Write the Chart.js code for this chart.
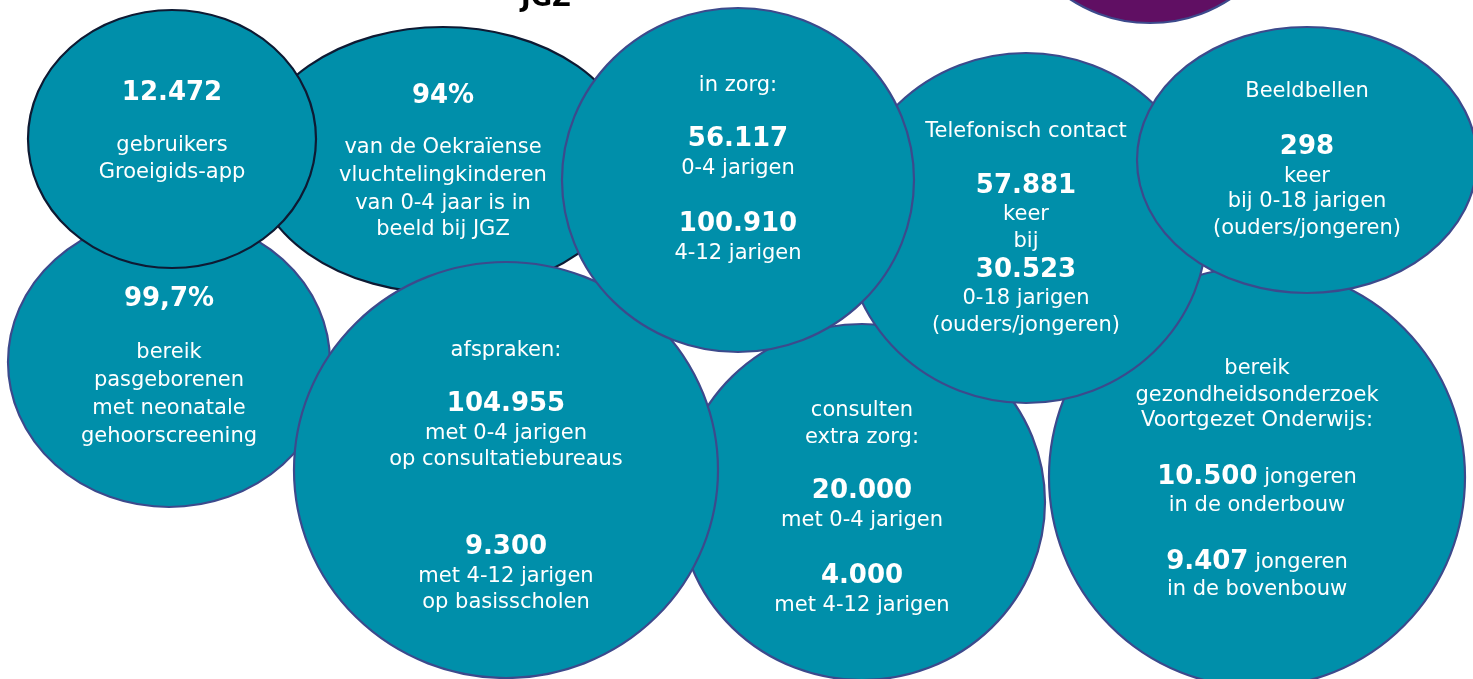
<!DOCTYPE html>
<html>
<head>
<meta charset="utf-8">
<title>JGZ bubbels</title>
<script src="https://cdn.jsdelivr.net/npm/chart.js@4.4.0/dist/chart.umd.min.js"></script>
<style>
  html, body { margin: 0; padding: 0; background: #ffffff; overflow: hidden; }
  #bubbles { display: block; }
</style>
</head>
<body>
<canvas id="bubbles" width="1473" height="679"></canvas>
<script>
// bubbels, in tekenvolgorde (achter naar voor)
const bubbleIds = ['paars', 'gehoor', 'oekraine', 'groeigids', 'extraZorg', 'afspraken', 'voOnderzoek', 'telefoon', 'beeldbellen', 'inZorg'];
const centerX = [1150, 169, 443, 172, 862, 506, 1257, 1026, 1307, 738];
const centerY = [-110, 362, 160, 139, 502, 470, 477, 228, 160, 180];
const radiusX = [140, 161, 190, 144, 183, 212, 208, 181, 170, 176];
const radiusY = [133, 145, 133, 129, 178, 208, 210, 175, 133, 172];

// tekstregels per bubbel: [vet deel, gewoon deel, y]
const paarsText = [];
const gehoorText = [['99,7%', '', 299], ['', 'bereik', 352], ['', 'pasgeborenen', 380], ['', 'met neonatale', 408], ['', 'gehoorscreening', 436]];
const oekraineText = [['94%', '', 96], ['', 'van de Oekraïense', 147], ['', 'vluchtelingkinderen', 175], ['', 'van 0-4 jaar is in', 203], ['', 'beeld bij JGZ', 229]];
const groeigidsText = [['12.472', '', 93], ['', 'gebruikers', 145], ['', 'Groeigids-app', 172]];
const extraZorgText = [['', 'consulten', 410], ['', 'extra zorg:', 437], ['20.000', '', 491], ['', 'met 0-4 jarigen', 520], ['4.000', '', 576], ['', 'met 4-12 jarigen', 605]];
const afsprakenText = [['', 'afspraken:', 350], ['104.955', '', 404], ['', 'met 0-4 jarigen', 433], ['', 'op consultatiebureaus', 459], ['9.300', '', 547], ['', 'met 4-12 jarigen', 576], ['', 'op basisscholen', 602]];
const voOnderzoekText = [['', 'bereik', 368], ['', 'gezondheidsonderzoek', 395], ['', 'Voortgezet Onderwijs:', 420], ['10.500', ' jongeren', 477], ['', 'in de onderbouw', 505], ['9.407', ' jongeren', 562], ['', 'in de bovenbouw', 589]];
const telefoonText = [['', 'Telefonisch contact', 131], ['57.881', '', 186], ['', 'keer', 214], ['', 'bij', 241], ['30.523', '', 270], ['', '0-18 jarigen', 298], ['', '(ouders/jongeren)', 325]];
const beeldbellenText = [['', 'Beeldbellen', 91], ['298', '', 147], ['', 'keer', 176], ['', 'bij 0-18 jarigen', 201], ['', '(ouders/jongeren)', 228]];
const inZorgText = [['', 'in zorg:', 85], ['56.117', '', 139], ['', '0-4 jarigen', 168], ['100.910', '', 224], ['', '4-12 jarigen', 253]];

const bubbleTexts = [paarsText, gehoorText, oekraineText, groeigidsText, extraZorgText, afsprakenText, voOnderzoekText, telefoonText, beeldbellenText, inZorgText];

// titel bovenaan (grotendeels buiten beeld)
const titleText = 'JGZ';
const titleX = 546;
const titleY = 6;

const FONT = '"DejaVu Sans", Verdana, sans-serif';
const TEAL = '#008FAA';
const PURPLE = '#600F63';
const EDGE = '#3C4A8C';
const EDGE_DARK = '#0E1A33';

function fillFor(id) {
  return id === 'paars' ? PURPLE : TEAL;
}

function edgeFor(id) {
  return (id === 'groeigids' || id === 'oekraine') ? EDGE_DARK : EDGE;
}

// tekent een tekstregel met eventueel een vet en een gewoon deel, samen gecentreerd
function drawLine(ctx, cx, cy, boldPart, normalPart) {
  const boldFont = 'bold 26px ' + FONT;
  const normalFont = '21px ' + FONT;
  ctx.font = boldFont;
  const wb = boldPart ? ctx.measureText(boldPart).width : 0;
  ctx.font = normalFont;
  const wn = normalPart ? ctx.measureText(normalPart).width : 0;
  let x = cx - (wb + wn) / 2;
  ctx.textAlign = 'left';
  ctx.textBaseline = 'middle';
  ctx.fillStyle = '#ffffff';
  if (boldPart) {
    ctx.font = boldFont;
    ctx.fillText(boldPart, x, cy);
    x += wb;
  }
  if (normalPart) {
    ctx.font = normalFont;
    ctx.fillText(normalPart, x, cy + 1);
  }
}

const ellipsePlugin = {
  id: 'ellipseBubbles',
  afterDatasetsDraw(chart) {
    const ctx = chart.ctx;
    const xs = chart.scales.x;
    const ys = chart.scales.y;
    ctx.save();
    bubbleIds.forEach((id, i) => {
      const px = xs.getPixelForValue(centerX[i]);
      const py = ys.getPixelForValue(centerY[i]);
      const rx = Math.abs(xs.getPixelForValue(centerX[i] + radiusX[i]) - px);
      const ry = Math.abs(ys.getPixelForValue(centerY[i] + radiusY[i]) - py);
      ctx.beginPath();
      ctx.ellipse(px, py, rx, ry, 0, 0, Math.PI * 2);
      ctx.fillStyle = fillFor(id);
      ctx.fill();
      ctx.lineWidth = 2.2;
      ctx.strokeStyle = edgeFor(id);
      ctx.stroke();
      bubbleTexts[i].forEach(line => {
        drawLine(ctx, px, ys.getPixelForValue(line[2]), line[0], line[1]);
      });
    });
    ctx.font = 'bold 26px ' + FONT;
    ctx.fillStyle = '#000000';
    ctx.textAlign = 'center';
    ctx.textBaseline = 'alphabetic';
    ctx.fillText(titleText, xs.getPixelForValue(titleX), ys.getPixelForValue(titleY));
    ctx.restore();
  }
};

new Chart(document.getElementById('bubbles'), {
  type: 'scatter',
  data: {
    datasets: [{
      label: 'bubbels',
      data: bubbleIds.map((id, i) => ({ x: centerX[i], y: centerY[i] })),
      pointRadius: 0,
      pointHoverRadius: 0
    }]
  },
  options: {
    responsive: false,
    animation: false,
    layout: { padding: 0 },
    plugins: {
      legend: { display: false },
      tooltip: { enabled: false }
    },
    scales: {
      x: { type: 'linear', min: 0, max: 1473, display: false },
      y: { type: 'linear', min: 0, max: 679, reverse: true, display: false }
    }
  },
  plugins: [ellipsePlugin]
});
</script>
</body>
</html>
